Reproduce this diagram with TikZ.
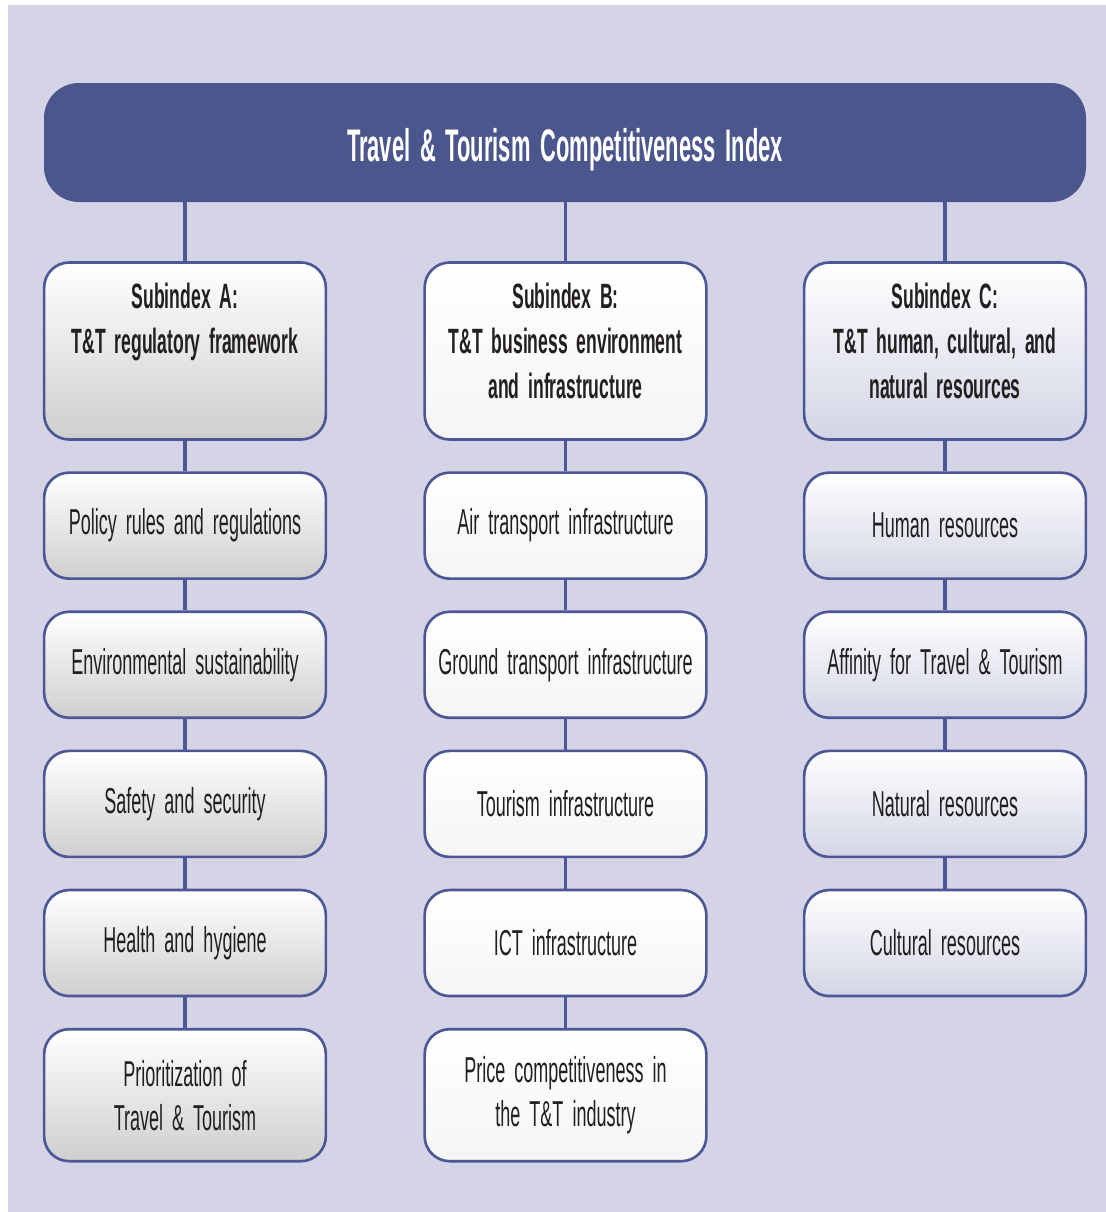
\documentclass[tikz,border=0pt]{standalone}
\usepackage{fontspec}
\setmainfont{Liberation Sans}[FakeStretch=0.5, WordSpace=1.8]
\newfontfamily\titlefont{Liberation Sans}[FakeStretch=0.48, WordSpace=1.6]
\usepackage{tikz}
\usetikzlibrary{positioning}
\definecolor{bgcol}{HTML}{D5D3E6}
\definecolor{navy}{HTML}{4B568C}
\definecolor{edge}{HTML}{4E5795}
\definecolor{ink}{HTML}{231F20}
\tikzstyle{banner} = [rectangle, rounded corners=0.7cm,
minimum width=20.84cm,
minimum height=2.38cm,
fill=navy, text=white,
font=\titlefont\fontsize{26}{30}\selectfont\bfseries]
\tikzstyle{pillar} = [rectangle, rounded corners=0.5cm,
minimum width=5.58cm,
minimum height=2.12cm,
align=flush center,
text width=5.4cm,
draw=edge, line width=1.5pt, text=ink,
font=\fontsize{20.5}{25}\selectfont]
\tikzstyle{subbox} = [pillar, minimum height=3.54cm, text depth=2.2cm,
font=\fontsize{20}{25.5}\selectfont\bfseries]
\tikzstyle{tallbox} = [pillar, minimum height=2.64cm]
\tikzstyle{greybox} = [top color=white, bottom color=black!19]
\tikzstyle{whitebox} = [top color=white, bottom color=black!4]
\tikzstyle{lilacbox} = [top color=white, bottom color=edge!25]
\tikzstyle{link} = [draw=edge, line width=2.2pt]

\begin{document}
\begin{tikzpicture}[node distance=0.61cm]
		\useasboundingbox (0,0) rectangle (22.12,-24.24);
		\fill [bgcol] (0.16,-0.1) rectangle (22.12,-24.24);

		\node (tti) [banner] at (11.30,-2.85) {\raisebox{-0.14cm}[\height][\depth]{Travel \& Tourism Competitiveness Index}};

		% subindex A
		\node (subA) [subbox, greybox] at (3.70,-7.02) {Subindex A:\\T\&T regulatory framework\\\mbox{}};
		\node (policy) [pillar, greybox, below=of subA] {Policy rules and regulations};
		\node (env) [pillar, greybox, below=of policy] {Environmental sustainability};
		\node (safety) [pillar, greybox, below=of env] {Safety and security};
		\node (health) [pillar, greybox, below=of safety] {Health and hygiene};
		\node (prio) [tallbox, greybox, below=of health] {Prioritization of\\Travel \& Tourism};

		% subindex B
		\node (subB) [subbox, whitebox] at (11.31,-7.02) {Subindex B:\\T\&T business environment\\and infrastructure};
		\node (air) [pillar, whitebox, below=of subB] {Air transport infrastructure};
		\node (ground) [pillar, whitebox, below=of air] {Ground transport infrastructure};
		\node (tourism) [pillar, whitebox, below=of ground] {Tourism infrastructure};
		\node (ict) [pillar, whitebox, below=of tourism] {ICT infrastructure};
		\node (price) [tallbox, whitebox, below=of ict] {Price competitiveness in\\the T\&T industry};

		% subindex C
		\node (subC) [subbox, lilacbox] at (18.90,-7.02) {Subindex C:\\T\&T human, cultural, and\\natural resources};
		\node (human) [pillar, lilacbox, below=of subC] {Human resources};
		\node (affinity) [pillar, lilacbox, below=of human] {Affinity for Travel \& Tourism};
		\node (natural) [pillar, lilacbox, below=of affinity] {Natural resources};
		\node (cultural) [pillar, lilacbox, below=of natural] {Cultural resources};

		\draw [link](tti.south -| subA.north) -- (subA.north);
		\draw [link](tti.south -| subB.north) -- (subB.north);
		\draw [link](tti.south -| subC.north) -- (subC.north);
		\draw [link](subA) -- (policy);
		\draw [link](policy) -- (env);
		\draw [link](env) -- (safety);
		\draw [link](safety) -- (health);
		\draw [link](health) -- (prio);
		\draw [link](subB) -- (air);
		\draw [link](air) -- (ground);
		\draw [link](ground) -- (tourism);
		\draw [link](tourism) -- (ict);
		\draw [link](ict) -- (price);
		\draw [link](subC) -- (human);
		\draw [link](human) -- (affinity);
		\draw [link](affinity) -- (natural);
		\draw [link](natural) -- (cultural);
	\end{tikzpicture}
\end{document}
